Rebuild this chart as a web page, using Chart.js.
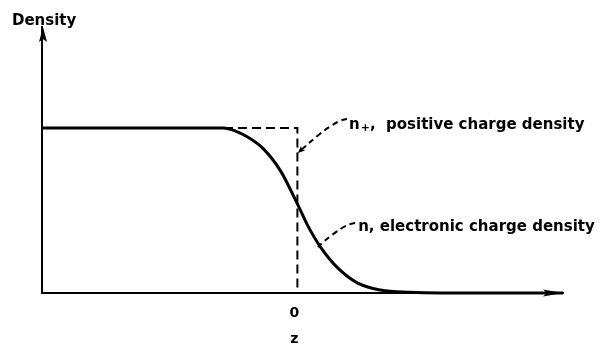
<!DOCTYPE html>
<html>
<head>
<meta charset="utf-8">
<script src="https://cdn.jsdelivr.net/npm/chart.js@4/dist/chart.umd.min.js"></script>
<style>
  html, body { margin: 0; padding: 0; background: #fff; }
  #wrap { width: 606px; height: 347px; }
</style>
</head>
<body>
<div id="wrap"><canvas id="densityChart" width="606" height="347"></canvas></div>
<script>
// electronic charge density n(z)
const zElectron = [-5, -1.45, -1.2, -1.0, -0.67, -0.33, 0, 0.2, 0.45, 0.78, 1.18, 1.63, 2.2, 2.8, 5.2];
const nElectron = [1, 1, 0.98, 0.95, 0.875, 0.74, 0.54, 0.41, 0.28, 0.155, 0.06, 0.018, 0.004, 0, 0];

// positive charge density n+ (step at z = 0)
const zPositive = [-5, 0, 0];
const nPositive = [1, 1, 0];

const xTickValues = [0];
const xTickLabels = ['0'];

const FONT = '"DejaVu Sans", sans-serif';

function toPoints(xs, ys) {
  return xs.map((x, i) => ({ x, y: ys[i] }));
}

function arrowHead(ctx, tipX, tipY, angle, len, half) {
  ctx.save();
  ctx.translate(tipX, tipY);
  ctx.rotate(angle);
  ctx.beginPath();
  ctx.moveTo(0, 0);
  ctx.lineTo(-len, -half);
  ctx.lineTo(-len * 0.8, 0);
  ctx.lineTo(-len, half);
  ctx.closePath();
  ctx.fill();
  ctx.restore();
}

const decorations = {
  id: 'decorations',
  afterDraw(chart) {
    const { ctx, chartArea, scales: { x, y } } = chart;
    const px = (v) => x.getPixelForValue(v);
    const py = (v) => y.getPixelForValue(v);
    ctx.save();
    ctx.fillStyle = '#000';
    ctx.strokeStyle = '#000';

    // axis arrows
    arrowHead(ctx, chartArea.left + 1, chartArea.top, -Math.PI / 2, 15, 4);
    arrowHead(ctx, chartArea.right, chartArea.bottom, 0, 20, 3.5);

    // leader lines
    ctx.lineWidth = 2;
    ctx.setLineDash([6, 4]);
    const leaders = [
      [[0.97, 1.055], [0.70, 1.048], [0.01, 0.848]],
      [[1.13, 0.424], [0.89, 0.418], [0.40, 0.279]]
    ];
    leaders.forEach(([s, c, e]) => {
      ctx.beginPath();
      ctx.moveTo(px(s[0]), py(s[1]));
      ctx.quadraticCurveTo(px(c[0]), py(c[1]), px(e[0]), py(e[1]));
      ctx.stroke();
    });
    ctx.setLineDash([]);
    // small arrowhead on the n+ leader
    const e0 = leaders[0][2], c0 = leaders[0][1];
    arrowHead(ctx, px(e0[0]), py(e0[1]),
      Math.atan2(py(e0[1]) - py(c0[1]), px(e0[0]) - px(c0[0])), 7, 3);

    // texts
    ctx.textBaseline = 'alphabetic';
    ctx.textAlign = 'left';
    ctx.font = 'bold 15px ' + FONT;
    ctx.fillText('Density', 12, 25);

    let tx = px(1.01), ty = py(0.994);
    ctx.fillText('n', tx, ty);
    tx += ctx.measureText('n').width + 1;
    ctx.font = 'bold 11px ' + FONT;
    ctx.fillText('+', tx, ty + 2);
    tx += ctx.measureText('+').width;
    ctx.font = 'bold 15px ' + FONT;
    ctx.fillText(',  positive charge density', tx, ty);

    ctx.fillText('n, electronic charge density', px(1.19), py(0.376));

    ctx.textAlign = 'center';
    ctx.font = 'bold 14px ' + FONT;
    ctx.fillText('z', px(0) - 3, 343);
    ctx.restore();
  }
};

new Chart(document.getElementById('densityChart').getContext('2d'), {
  type: 'scatter',
  data: {
    datasets: [
      {
        label: 'n, electronic charge density',
        data: toPoints(zElectron, nElectron),
        showLine: true,
        borderColor: '#000',
        borderWidth: 3,
        pointRadius: 0,
        cubicInterpolationMode: 'monotone',
        clip: false,
        order: 1
      },
      {
        label: 'n+, positive charge density',
        data: toPoints(zPositive, nPositive),
        showLine: true,
        borderColor: '#000',
        borderWidth: 2,
        borderDash: [9, 5],
        pointRadius: 0,
        clip: false,
        order: 2
      }
    ]
  },
  options: {
    responsive: false,
    animation: false,
    layout: { padding: { top: 27, right: 43, left: 0, bottom: 0 } },
    plugins: {
      legend: { display: false },
      tooltip: { enabled: false }
    },
    scales: {
      x: {
        type: 'linear',
        min: -5,
        max: 5.2,
        grid: { display: false, drawTicks: false },
        border: { display: true, color: '#000', width: 2 },
        afterBuildTicks: (scale) => { scale.ticks = xTickValues.map(v => ({ value: v })); },
        afterFit: (scale) => { scale.height = 54; },
        ticks: {
          color: '#000',
          padding: 12,
          labelOffset: -3,
          font: { family: FONT, size: 14, weight: 'bold' },
          callback: (v) => xTickLabels[xTickValues.indexOf(v)]
        }
      },
      y: {
        type: 'linear',
        min: 0,
        max: 1.612,
        grid: { display: false, drawTicks: false },
        border: { display: true, color: '#000', width: 2 },
        ticks: { display: false },
        afterFit: (scale) => { scale.width = 42; }
      }
    }
  },
  plugins: [decorations]
});
</script>
</body>
</html>
